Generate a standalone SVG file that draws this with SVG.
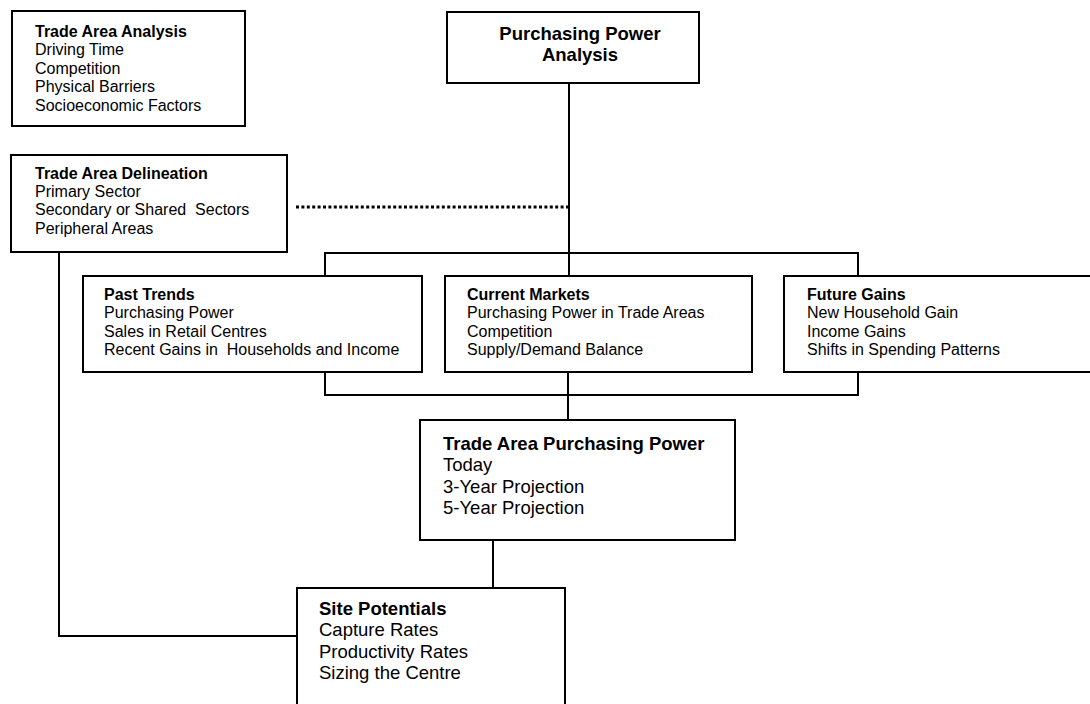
<svg xmlns="http://www.w3.org/2000/svg" width="1090" height="704" viewBox="0 0 1090 704">
  <style>
    .box { fill: #ffffff; stroke: #000000; stroke-width: 2; }
    .wire { fill: none; stroke: #000000; stroke-width: 2; }
    .dots { fill: none; stroke: #000000; stroke-width: 3; stroke-dasharray: 3 2.4; }
    text { font-family: "Liberation Sans", Arial, sans-serif; fill: #000000; }
    .s { font-size: 16px; }
    .l { font-size: 18.5px; }
    .b { font-weight: bold; }
  </style>
  <rect width="1090" height="704" fill="#ffffff"/>

  <!-- connectors -->
  <g id="connectors">
    <!-- Purchasing Power Analysis down to the upper bracket and on to the purchasing power box -->
    <line class="wire" x1="569" y1="83" x2="569" y2="276"/>
    <path class="wire" d="M325 276 V253 H858 V276"/>
    <path class="wire" d="M325 372 V395 H858 V372"/>
    <line class="wire" x1="568" y1="372" x2="568" y2="420"/>
    <line class="wire" x1="493" y1="540" x2="493" y2="588"/>
    <!-- delineation feeds site potentials -->
    <path class="wire" d="M59 252 V636 H297"/>
    <!-- dotted link from delineation -->
    <line class="dots" x1="296" y1="207" x2="569" y2="207"/>
  </g>

  <g id="trade-area-analysis">
    <rect class="box" x="12" y="11" width="233" height="115"/>
    <text class="s b" x="35" y="37">Trade Area Analysis</text>
    <text class="s" x="35" y="55.4">Driving Time</text>
    <text class="s" x="35" y="73.8">Competition</text>
    <text class="s" x="35" y="92.2">Physical Barriers</text>
    <text class="s" x="35" y="110.6">Socioeconomic Factors</text>
  </g>

  <g id="purchasing-power-analysis">
    <rect class="box" x="447" y="12" width="252" height="71"/>
    <text class="l b" x="580" y="40" text-anchor="middle">Purchasing Power</text>
    <text class="l b" x="580" y="61" text-anchor="middle">Analysis</text>
  </g>

  <g id="trade-area-delineation">
    <rect class="box" x="11" y="155" width="276" height="97"/>
    <text class="s b" x="35" y="178.5">Trade Area Delineation</text>
    <text class="s" x="35" y="196.9">Primary Sector</text>
    <text class="s" x="35" y="215.3" xml:space="preserve">Secondary or Shared  Sectors</text>
    <text class="s" x="35" y="233.7">Peripheral Areas</text>
  </g>

  <g id="past-trends">
    <rect class="box" x="83" y="276" width="339" height="96"/>
    <text class="s b" x="104" y="300">Past Trends</text>
    <text class="s" x="104" y="318.4">Purchasing Power</text>
    <text class="s" x="104" y="336.8">Sales in Retail Centres</text>
    <text class="s" x="104" y="355.2" xml:space="preserve">Recent Gains in  Households and Income</text>
  </g>

  <g id="current-markets">
    <rect class="box" x="445" y="276" width="307" height="96"/>
    <text class="s b" x="467" y="300">Current Markets</text>
    <text class="s" x="467" y="318.4">Purchasing Power in Trade Areas</text>
    <text class="s" x="467" y="336.8">Competition</text>
    <text class="s" x="467" y="355.2">Supply/Demand Balance</text>
  </g>

  <g id="future-gains">
    <rect class="box" x="784" y="276" width="320" height="96"/>
    <text class="s b" x="807" y="300">Future Gains</text>
    <text class="s" x="807" y="318.4">New Household Gain</text>
    <text class="s" x="807" y="336.8">Income Gains</text>
    <text class="s" x="807" y="355.2">Shifts in Spending Patterns</text>
  </g>

  <g id="trade-area-purchasing-power">
    <rect class="box" x="420" y="420" width="315" height="120"/>
    <text class="l b" x="443" y="450">Trade Area Purchasing Power</text>
    <text class="l" x="443" y="471.3">Today</text>
    <text class="l" x="443" y="492.6">3-Year Projection</text>
    <text class="l" x="443" y="513.9">5-Year Projection</text>
  </g>

  <g id="site-potentials">
    <rect class="box" x="297" y="588" width="268" height="130"/>
    <text class="l b" x="319" y="615">Site Potentials</text>
    <text class="l" x="319" y="636.3">Capture Rates</text>
    <text class="l" x="319" y="657.6">Productivity Rates</text>
    <text class="l" x="319" y="678.9">Sizing the Centre</text>
  </g>
</svg>
